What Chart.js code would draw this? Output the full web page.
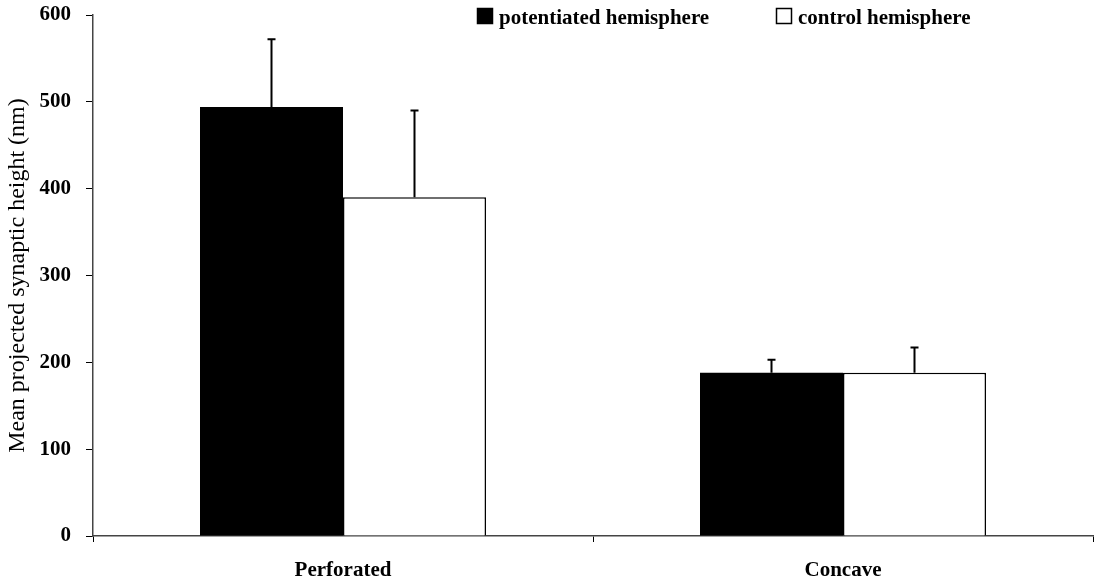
<!DOCTYPE html>
<html>
<head>
<meta charset="utf-8">
<script src="https://cdn.jsdelivr.net/npm/chart.js@4.4.0/dist/chart.umd.min.js"></script>
<style>
  html, body { margin: 0; padding: 0; background: #fff; }
  #wrap { width: 1096px; height: 588px; }
</style>
</head>
<body>
<div id="wrap"><canvas id="chart" width="1096" height="588"></canvas></div>
<script>
const categories = ['Perforated', 'Concave']
const seriesNames = ['potentiated hemisphere', 'control hemisphere']
const potentiated = [494, 188]
const potentiatedErr = [78, 15]
const control = [390, 188]
const controlErr = [100, 29]
const yMin = 0
const yMax = 600
const yStep = 100

const serif = "'Liberation Serif', 'Times New Roman', serif"

// upward-only error bars, drawn through the y scale
const errorBars = {
  id: 'errorBars',
  afterDatasetsDraw(chart) {
    const ctx = chart.ctx
    const y = chart.scales.y
    chart.data.datasets.forEach((ds, i) => {
      const meta = chart.getDatasetMeta(i)
      meta.data.forEach((bar, j) => {
        const top = y.getPixelForValue(ds.data[j] + ds.errors[j])
        ctx.save()
        ctx.strokeStyle = '#000'
        ctx.lineWidth = 2
        ctx.beginPath()
        ctx.moveTo(bar.x, bar.y)
        ctx.lineTo(bar.x, top)
        ctx.moveTo(bar.x - 4, top)
        ctx.lineTo(bar.x + 4, top)
        ctx.stroke()
        ctx.restore()
      })
    })
  }
}

// legend sits inside the plot, top right
const boxLegend = {
  id: 'boxLegend',
  afterDraw(chart) {
    const ctx = chart.ctx
    const spots = [477, 776]
    ctx.save()
    ctx.font = 'bold 21px ' + serif
    ctx.textBaseline = 'alphabetic'
    chart.data.datasets.forEach((ds, i) => {
      const x = spots[i]
      ctx.fillStyle = ds.backgroundColor
      ctx.strokeStyle = '#000'
      ctx.lineWidth = 1.5
      ctx.beginPath()
      ctx.rect(x + 0.5, 8.5, 15, 15)
      ctx.fill()
      ctx.stroke()
      ctx.fillStyle = '#000'
      ctx.fillText(ds.label, x + 22, 24)
    })
    ctx.restore()
  }
}

const ctx = document.getElementById('chart')
new Chart(ctx, {
  type: 'bar',
  data: {
    labels: categories,
    datasets: [
      {
        label: seriesNames[0],
        data: potentiated,
        errors: potentiatedErr,
        backgroundColor: '#000',
        borderColor: '#000',
        borderWidth: 0
      },
      {
        label: seriesNames[1],
        data: control,
        errors: controlErr,
        backgroundColor: '#fff',
        borderColor: '#000',
        borderWidth: 1.5
      }
    ]
  },
  options: {
    responsive: false,
    animation: false,
    events: [],
    layout: { padding: { top: 15, right: 3, bottom: 0, left: 0 } },
    categoryPercentage: 0.572,
    barPercentage: 1,
    plugins: {
      legend: { display: false },
      tooltip: { enabled: false }
    },
    scales: {
      x: {
        grid: { display: true, drawOnChartArea: false, offset: true, tickLength: 6, color: '#000' },
        border: { display: true, color: '#444', width: 1.5 },
        ticks: { color: '#000', padding: 16, font: { family: serif, size: 21, weight: 'bold' } },
        afterFit(scale) {
          scale.height = 52
          scale.paddingLeft = 0
          scale.paddingRight = 0
        }
      },
      y: {
        min: yMin,
        max: yMax,
        ticks: { stepSize: yStep, color: '#000', padding: 15, font: { family: serif, size: 21, weight: 'bold' } },
        grid: { drawOnChartArea: false, tickLength: 7, color: '#000' },
        border: { display: true, color: '#444', width: 1.5 },
        title: {
          display: true,
          text: 'Mean projected synaptic height (nm)',
          color: '#000',
          padding: { top: 3, bottom: 0 },
          font: { family: serif, size: 24, weight: 'normal' }
        },
        afterFit(scale) {
          scale.width = 93
          scale.paddingTop = 0
          scale.paddingBottom = 0
        }
      }
    }
  },
  plugins: [errorBars, boxLegend]
})
</script>
</body>
</html>
